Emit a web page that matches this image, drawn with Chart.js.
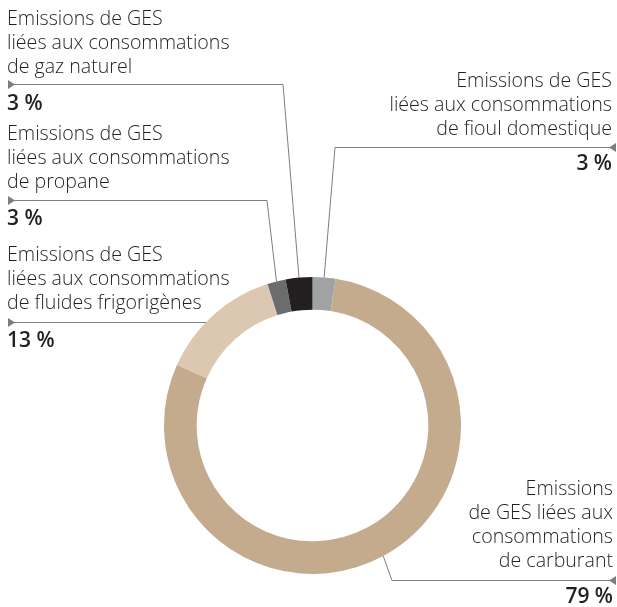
<!DOCTYPE html>
<html>
<head>
<meta charset="utf-8">
<script src="https://cdn.jsdelivr.net/npm/chart.js@4/dist/chart.umd.min.js"></script>
<style>
  html, body { margin: 0; padding: 0; background: #ffffff; }
  #wrap { width: 617px; height: 607px; position: relative; }
</style>
</head>
<body>
<div id="wrap"><canvas id="c" width="617" height="607"></canvas></div>
<script>
// ---- data ----
const categories = [
  "fioul domestique",
  "carburant",
  "fluides frigorigènes",
  "propane",
  "gaz naturel"
];
const shares = [2.5, 79.2, 13.4, 2.0, 2.9];          // arc sizes
const shareLabels = ["3 %", "79 %", "13 %", "3 %", "3 %"]; // printed percentages
const labelLines = [
  ["Emissions de GES", "liées aux consommations", "de fioul domestique"],
  ["Emissions", "de GES liées aux", "consommations", "de carburant"],
  ["Emissions de GES", "liées aux consommations", "de fluides frigorigènes"],
  ["Emissions de GES", "liées aux consommations", "de propane"],
  ["Emissions de GES", "liées aux consommations", "de gaz naturel"]
];
const colors = ["#a1a2a4", "#c4ab8e", "#dbc7b2", "#6b6c6e", "#231f20"];

// ---- label layout (positions only) ----
const layout = [
  { side: "R", x: 612, firstBase: 87, lineY: 147, pctBase: 170, elbowX: 335 },
  { side: "R", x: 613, firstBase: 495, lineY: 580, pctBase: 603, elbowX: 392 },
  { side: "L", x: 7, firstBase: 261, lineY: 322, pctBase: 347, elbowX: null },
  { side: "L", x: 7, firstBase: 140, lineY: 200, pctBase: 225, elbowX: 267 },
  { side: "L", x: 7, firstBase: 25, lineY: 84, pctBase: 110, elbowX: 283 }
];

const TEXT_FONT = '300 19.6px "Open Sans"';
const PCT_FONT = '600 21px "Open Sans"';
const LINE_H = 24;

const leaderPlugin = {
  id: "leaders",
  afterDatasetsDraw(chart) {
    const ctx = chart.ctx;
    const meta = chart.getDatasetMeta(0);
    ctx.save();
    meta.data.forEach((arc, i) => {
      const p = arc.getProps(["x", "y", "startAngle", "endAngle", "outerRadius"], true);
      const mid = (p.startAngle + p.endAngle) / 2;
      const ax = p.x + Math.cos(mid) * p.outerRadius;
      const ay = p.y + Math.sin(mid) * p.outerRadius;
      const L = layout[i];
      const endX = L.side === "L" ? 8 : 617 - 6;
      ctx.strokeStyle = "#7d7d7d";
      ctx.lineWidth = 1;
      ctx.beginPath();
      if (L.elbowX === null) {
        const dy = L.lineY - p.y;
        const hx = p.x - Math.sqrt(Math.max(0, p.outerRadius * p.outerRadius - dy * dy));
        ctx.moveTo(endX, L.lineY + 0.5);
        ctx.lineTo(hx, L.lineY + 0.5);
      } else {
        ctx.moveTo(endX, L.lineY + 0.5);
        ctx.lineTo(L.elbowX, L.lineY + 0.5);
        ctx.lineTo(ax, ay);
      }
      ctx.stroke();
      // arrow head
      ctx.fillStyle = "#7d7d7d";
      ctx.beginPath();
      if (L.side === "L") {
        ctx.moveTo(endX, L.lineY - 4);
        ctx.lineTo(endX + 7, L.lineY + 0.5);
        ctx.lineTo(endX, L.lineY + 5);
      } else {
        ctx.moveTo(endX + 5, L.lineY - 4);
        ctx.lineTo(endX - 2, L.lineY + 0.5);
        ctx.lineTo(endX + 5, L.lineY + 5);
      }
      ctx.closePath();
      ctx.fill();

      // texts
      ctx.fillStyle = "#231f20";
      ctx.textAlign = L.side === "L" ? "left" : "right";
      ctx.textBaseline = "alphabetic";
      ctx.font = TEXT_FONT;
      labelLines[i].forEach((t, k) => {
        ctx.fillText(t, L.x, L.firstBase + k * LINE_H);
      });
      ctx.font = PCT_FONT;
      ctx.fillText(shareLabels[i], L.x, L.pctBase);
    });
    ctx.restore();
  }
};

new Chart(document.getElementById("c"), {
  type: "doughnut",
  data: {
    labels: categories,
    datasets: [{
      data: shares,
      backgroundColor: colors,
      borderWidth: 0,
      hoverOffset: 0
    }]
  },
  options: {
    responsive: false,
    animation: false,
    cutout: "78%",
    layout: { padding: { top: 277, bottom: 33, left: 164, right: 156 } },
    plugins: {
      legend: { display: false },
      tooltip: { enabled: false }
    }
  },
  plugins: [leaderPlugin]
});
</script>
</body>
</html>
